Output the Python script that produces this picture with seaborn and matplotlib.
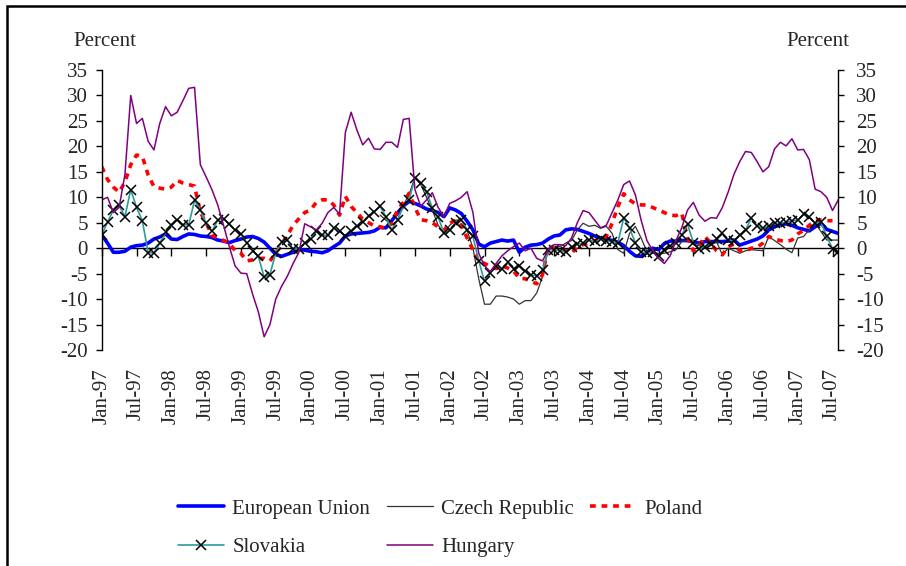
import numpy as np
import pandas as pd
import seaborn as sns
import matplotlib.pyplot as plt
from matplotlib.patches import Rectangle

# monthly values, Jan-97 .. Aug-07 (one row per year)
eu = [2.6, 1.0, -0.8, -0.8, -0.6, 0.2, 0.5, 0.6, 1.0, 1.8, 2.2, 2.8,
      1.8, 1.7, 2.3, 2.8, 2.7, 2.4, 2.3, 2.1, 1.6, 1.4, 1.1, 1.5,
      1.8, 2.2, 2.3, 1.9, 1.2, 0.0, -1.2, -1.6, -1.2, -0.8, -0.2, -0.4,
      -0.6, -0.7, -0.9, -0.5, 0.3, 1.0, 2.4, 2.8, 2.9, 3.0, 3.1, 3.4,
      4.1, 4.0, 5.4, 6.9, 8.3, 9.2, 8.8, 8.3, 7.7, 7.4, 7.0, 6.2,
      7.9, 7.5, 6.8, 5.3, 3.6, 0.8, 0.3, 1.0, 1.3, 1.6, 1.4, 1.6,
      -0.8, 0.2, 0.6, 0.7, 1.0, 1.8, 2.4, 2.6, 3.6, 3.8, 3.7, 3.3,
      2.9, 2.4, 2.0, 1.8, 1.5, 1.2, 0.5, -0.6, -1.5, -1.6, -0.8, 0.0,
      -0.3, 0.9, 1.4, 1.4, 1.5, 1.5, 1.3, 1.0, 1.3, 1.3, 1.3, 1.3,
      1.4, 1.6, 0.6, 1.0, 1.4, 1.8, 2.4, 3.6, 4.2, 4.6, 4.8, 4.5,
      4.0, 3.7, 3.4, 4.2, 4.9, 3.7, 3.3, 2.9]

czech = [np.nan] * 48 + [
      6.5, 5.5, 4.5, 5.5, 8.5, 10.5, 14.0, 12.5, 10.0, 7.5, 4.5, 3.0,
      4.5, 5.5, 5.6, 3.5, 0.0, -6.0, -11.0, -11.0, -9.4, -9.4, -9.6, -10.0,
      -11.0, -10.3, -10.3, -8.8, -5.6, 0.0, 0.0, 0.3, 1.0, 1.5, 3.6, 4.9,
      4.3, 4.5, 3.9, 4.3, 2.9, -0.3, -1.0, 2.9, 4.3, 2.0, -0.7, -1.0,
      -1.0, -1.0, -0.7, -0.3, 1.3, 1.6, 0.7, 0.5, 0.0, 0.5, 1.3, -1.3,
      0.0, -0.5, -1.0, -0.5, -0.3, -0.4, -0.5, 2.3, 1.5, 0.7, -0.2, -0.9,
      2.0, 2.3, 3.6, 4.9, 3.3, 1.6, 1.6, 1.6]

poland = [16.0, 13.5, 12.0, 11.0, 13.0, 16.4, 18.3, 18.0, 14.4, 12.1, 11.8, 11.6,
      12.0, 13.3, 12.8, 12.5, 12.2, 7.0, 5.0, 2.5, 2.0, 1.5, 1.0, -0.5,
      -1.0, -2.5, -2.3, -2.0, -2.0, -2.5, -1.0, 0.8, 2.5, 4.5, 5.8, 7.0,
      7.5, 9.0, 9.5, 9.5, 8.5, 6.5, 10.2, 8.2, 7.0, 5.7, 5.0, 4.4,
      4.2, 3.8, 4.9, 7.5, 9.0, 10.8, 8.0, 5.6, 5.4, 5.0, 4.2, 3.5,
      4.9, 5.5, 4.5, 2.0, -0.3, -2.6, -3.0, -3.6, -4.0, -3.5, -3.9, -4.5,
      -5.9, -6.0, -6.5, -7.0, -5.2, 0.3, 0.0, -0.3, -0.5, -1.0, 0.3, 0.7,
      1.0, 1.5, 1.8, 2.3, 4.9, 8.2, 10.7, 9.5, 8.7, 8.5, 8.5, 8.0,
      7.5, 7.0, 6.5, 6.4, 6.9, 2.0, -0.5, 0.5, 2.3, 1.0, -0.5, -1.3,
      0.3, 0.8, -0.5, -0.5, 0.0, 0.2, 1.0, 2.3, 1.8, 1.5, 1.3, 1.6,
      2.8, 3.5, 4.5, 5.4, 5.5, 5.4, 5.4, np.nan]

slovakia = [2.6, 5.1, 7.5, 8.4, 6.2, 11.5, 8.0, 5.4, -0.9, -0.9, 1.0, 3.1,
      4.5, 5.6, 4.6, 4.6, 9.4, 7.5, 4.9, 3.3, 5.5, 5.7, 4.8, 3.6,
      2.8, 1.1, -0.5, -1.6, -5.7, -5.2, -0.9, 1.3, 1.6, -0.2, -0.1, 1.0,
      1.8, 3.3, 2.6, 2.5, 4.0, 3.3, 2.3, 3.3, 4.3, 5.2, 6.4, 7.2,
      8.2, 6.2, 3.6, 5.6, 8.2, 9.5, 13.8, 12.8, 11.1, 7.9, 6.2, 2.9,
      3.5, 5.0, 5.6, 3.6, 2.3, -2.5, -6.5, -4.9, -3.5, -4.0, -2.8, -4.0,
      -3.5, -4.5, -5.3, -5.4, -4.3, -0.3, -0.3, -0.5, -0.8, 0.3, 0.8, 1.0,
      1.6, 1.4, 1.8, 1.4, 1.3, 1.1, 6.0, 3.9, 1.1, -0.7, -1.0, -0.7,
      -1.6, -0.3, 0.5, 1.1, 2.6, 4.7, 1.1, -0.2, 0.3, 0.8, 1.8, 2.9,
      1.6, 1.5, 2.6, 3.6, 5.9, 4.4, 3.9, 4.3, 4.9, 4.9, 5.1, 5.4,
      5.5, 6.7, 6.2, 4.9, 5.1, 2.3, -0.1, -0.7]

hungary = [9.5, 10.0, 7.0, 8.0, 14.5, 30.0, 24.5, 25.5, 21.0, 19.3, 24.5, 27.8,
      26.0, 26.7, 29.0, 31.4, 31.6, 16.4, 14.0, 11.5, 8.5, 4.5, 0.3, -3.5,
      -4.9, -5.0, -9.0, -12.5, -17.4, -15.0, -10.0, -7.5, -5.5, -3.0, -0.8, 4.8,
      4.2, 3.6, 4.9, 7.0, 8.0, 6.7, 22.7, 26.7, 23.2, 20.3, 21.6, 19.5,
      19.4, 20.8, 20.8, 19.8, 25.3, 25.5, 11.5, 8.2, 9.5, 10.9, 8.0, 6.2,
      8.8, 9.3, 10.0, 11.1, 7.0, -1.0, -3.5, -4.6, -3.0, -1.5, -0.5, 0.3,
      1.0, -0.5, 0.0, -2.0, -2.5, -0.3, 0.7, 0.7, 0.5, 2.0, 5.0, 7.4,
      7.0, 5.5, 4.0, 4.5, 7.0, 9.5, 12.5, 13.2, 10.5, 5.5, 1.5, -0.5,
      -2.0, -3.0, -1.5, 1.5, 4.0, 7.5, 9.0, 6.5, 5.3, 6.0, 5.9, 8.0,
      11.0, 14.5, 17.0, 19.0, 18.8, 17.0, 15.0, 16.0, 19.5, 20.8, 20.1, 21.5,
      19.3, 19.4, 17.4, 11.6, 11.1, 10.0, 7.4, 9.5]

months = np.arange(len(eu))
tick_pos = list(range(0, 127, 6))
tick_labels = [f"{'Jan' if i % 12 == 0 else 'Jul'}-{(97 + i // 12) % 100:02d}" for i in tick_pos]

sns.set_style("white")
plt.rcParams['font.family'] = ['Liberation Serif', 'DejaVu Serif']
plt.rcParams['font.size'] = 15
plt.rcParams['axes.unicode_minus'] = False

fig = plt.figure(figsize=(9.06, 5.66), dpi=100)
ax = fig.add_axes([0.1123, 0.3816, 0.8130, 0.4947])

sns.lineplot(x=months, y=eu, ax=ax, color='#0000ff', lw=2.6, label='European Union')
sns.lineplot(x=months, y=czech, ax=ax, color='#333333', lw=0.9, label='Czech Republic')
sns.lineplot(x=months, y=poland, ax=ax, color='#ff0000', lw=2.6,
             linestyle=(0, (1.6, 1.6)), label='Poland')
sns.lineplot(x=months, y=slovakia, ax=ax, color='#2e9a9a', lw=1.2, marker='x',
             markersize=7, markeredgecolor='black', markeredgewidth=1.1, label='Slovakia')
sns.lineplot(x=months, y=hungary, ax=ax, color='#800080', lw=1.1, label='Hungary')

ax.set_xlim(0, 127)
ax.set_ylim(-20, 35)
ax.set_yticks(range(-20, 36, 5))
ax.set_xticks(tick_pos)
ax.set_xticklabels(tick_labels, rotation=90, va='top')
ax.tick_params(axis='x', length=0, pad=13)
ax.tick_params(axis='y', direction='out', length=4, width=1, color='black', pad=6, left=True)
ax.set_xlabel('')
ax.set_ylabel('')
for s in ['top', 'right', 'bottom']:
    ax.spines[s].set_visible(False)
ax.spines['left'].set_color('black')
ax.spines['left'].set_linewidth(1)

# zero line with the month ticks
zero = ax.secondary_xaxis(20 / 55)
zero.set_xticks(tick_pos)
zero.tick_params(direction='out', length=6, width=1, color='black', labelbottom=False, labeltop=False)
for s in zero.spines.values():
    s.set_color('black')
    s.set_linewidth(1)

right = ax.secondary_yaxis('right')
right.set_yticks(range(-20, 36, 5))
right.tick_params(direction='out', length=4, width=1, color='black', pad=9)
right.spines['right'].set_color('black')
right.spines['right'].set_linewidth(1)

fig.text(105 / 906, 1 - 42 / 566, 'Percent', ha='center', va='center')
fig.text(818 / 906, 1 - 42 / 566, 'Percent', ha='center', va='center')

h, l = ax.get_legend_handles_labels()
order = [0, 3, 1, 4, 2]
ax.legend([h[i] for i in order], [l[i] for i in order], ncol=3, frameon=False,
          loc='center left', bbox_to_anchor=(178 / 906, 0.0671), bbox_transform=fig.transFigure,
          borderpad=0, borderaxespad=0, handlelength=2.2, handletextpad=0.4,
          columnspacing=0.8, labelspacing=0.9)

fig.patches.append(Rectangle((7 / 906, -0.5), 2, 1.5 - 6 / 566, transform=fig.transFigure,
                             fill=False, edgecolor='black', lw=1.8))

fig.savefig('out.png', dpi=100)
